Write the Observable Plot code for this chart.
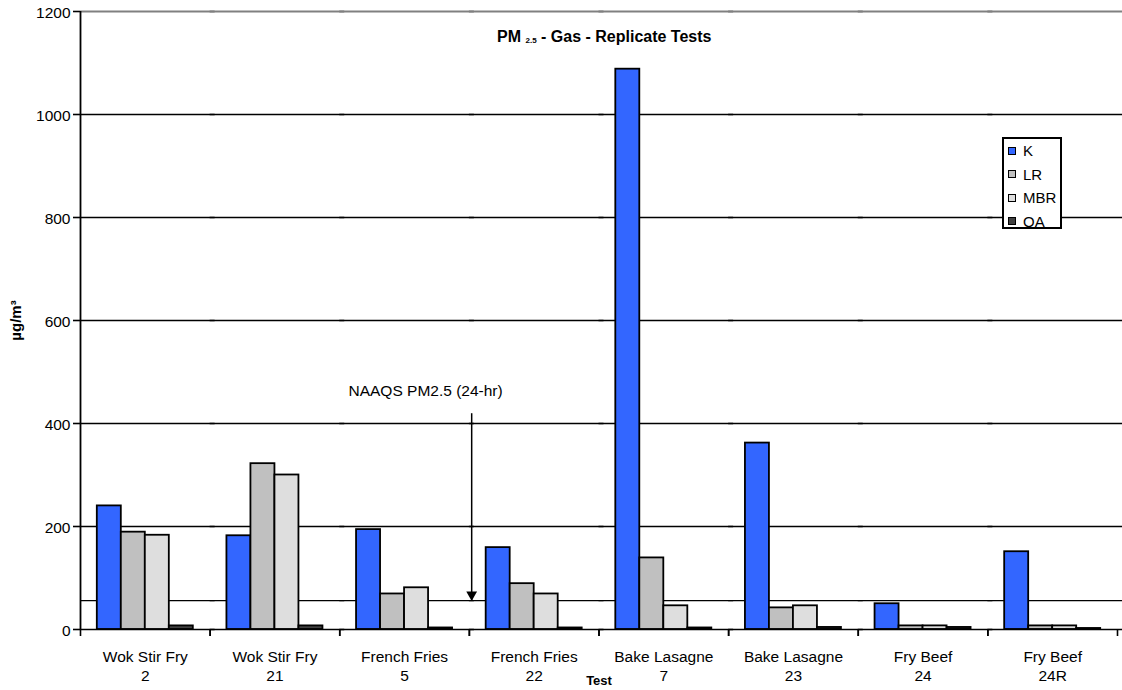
<!DOCTYPE html>
<html>
<head>
<meta charset="utf-8">
<script src="https://cdn.jsdelivr.net/npm/d3@7"></script>
<script src="https://cdn.jsdelivr.net/npm/@observablehq/plot@0.6"></script>
<style>
  body { margin: 0; background: #fff; font-family: "Liberation Sans", Arial, sans-serif; }
  #wrap { position: relative; width: 1122px; height: 690px; overflow: hidden; }
  #title { position: absolute; left: 497px; top: 29px; font-weight: bold; font-size: 16px; line-height: 16px; white-space: pre; color: #000; }
  #title sub { font-size: 8px; vertical-align: -1px; }
  #legend { position: absolute; left: 1002px; top: 137px; width: 56px; height: 88px; border: 2px solid #000; background: #fff; font-size: 15px; }
  #legend .item { height: 23.5px; line-height: 23.5px; display: flex; align-items: center; }
  #legend .sw { width: 6px; height: 6px; border: 1px solid #000; margin-left: 4px; margin-right: 7px; }
  g[aria-label="y-axis label"] text { font-weight: bold; font-size: 15px; }
  g[aria-label="fx-axis label"] text { font-weight: bold; font-size: 13px; }
</style>
</head>
<body>
<div id="wrap">
  <div id="title"></div>
  <div id="legend"></div>
</div>
<script>
// ---- data ----
const tests = ["Wok Stir Fry\n2", "Wok Stir Fry\n21", "French Fries\n5", "French Fries\n22",
               "Bake Lasagne\n7", "Bake Lasagne\n23", "Fry Beef\n24", "Fry Beef\n24R"];
const series = ["K", "LR", "MBR", "OA"];
const colors = ["#3366FF", "#C0C0C0", "#DEDEDE", "#404040"];
const K   = [240, 182, 194, 159, 1088, 362, 50, 151];
const LR  = [189, 322, 69, 89, 139, 42, 7, 7];
const MBR = [183, 300, 81, 69, 46, 46, 7, 7];
const OA  = [7, 7, 3, 3, 3, 4, 4, 2];
const yTicks = [0, 200, 400, 600, 800, 1000, 1200];
const naaqs = 56;
const noteText = "NAAQS PM2.5 (24-hr)";
const noteTextY = 464;
const noteArrowTop = 419;
const titleMain = "PM ", titleSub = "2.5", titleRest = " - Gas - Replicate Tests";
const yLabel = "µg/m³";
const xLabel = "Test";

const valuesBySeries = [K, LR, MBR, OA];
const data = tests.flatMap((t, i) => series.map((s, j) => ({test: t, series: s, value: valuesBySeries[j][i]})));

// ---- layout ----
const W = 1122, H = 690, mL = 80, mR = 5, mT = 11, mB = 61;
const pad = 0.7;
const facetW = (W - mL - mR) / tests.length;
const bw = facetW / (series.length + 2 * pad);
const edge = bw / 2 + pad * bw;

const chart = Plot.plot({
  width: W, height: H,
  marginLeft: mL, marginRight: mR, marginTop: mT, marginBottom: mB,
  style: {fontFamily: "Liberation Sans, Arial, sans-serif", fontSize: "15.5px", color: "#000", background: "transparent"},
  fx: {domain: tests, padding: 0, round: false, label: null, axis: null},
  x: {domain: series, paddingInner: 0, paddingOuter: pad, round: false, axis: null},
  y: {domain: [0, 1200], ticks: yTicks, axis: null},
  color: {domain: series, range: colors},
  marks: [
    Plot.ruleY(yTicks.slice(1, -1), {stroke: "#000", strokeWidth: 1.3, insetRight: -mR}),
    Plot.ruleY([yTicks[yTicks.length - 1]], {stroke: "#808080", strokeWidth: 2, insetRight: -mR}),
    Plot.ruleY([naaqs], {stroke: "#000", strokeWidth: 1.3, insetRight: -mR}),
    Plot.barY(data, {fx: "test", x: "series", y: "value", fill: "series", stroke: "#000", strokeWidth: 1.8}),
    Plot.ruleY([0], {stroke: "#000", strokeWidth: 1.6, insetRight: -mR}),
    // value-axis line at the left edge of the first group
    Plot.ruleX([tests[0]], {fx: d => d, x: () => series[0], y1: () => 0, y2: () => yTicks[yTicks.length - 1], dx: -edge, stroke: "#000", strokeWidth: 1.8}),
    // category boundary ticks
    Plot.ruleX(tests, {fx: d => d, x: () => series[0], y1: () => 0, y2: () => 0, insetBottom: -7, dx: -edge, stroke: "#000", strokeWidth: 1.6}),
    Plot.ruleX(tests, {fx: d => d, x: () => series[series.length - 1], y1: () => 0, y2: () => 0, insetBottom: -7, dx: edge, stroke: "#000", strokeWidth: 1.6}),
    // y-axis tick marks
    Plot.axisY({ticks: yTicks, tickFormat: () => "", tickSize: 7, strokeWidth: 1.6, label: null}),
    // y-axis tick labels + title
    Plot.axisY({ticks: yTicks, tickFormat: d => String(d), tickSize: 0, tickPadding: 10, dy: 2,
                label: yLabel, labelAnchor: "center", labelArrow: "none", labelOffset: 70}),
    Plot.axisFx({anchor: "bottom", tickSize: 0, tickPadding: 19, lineHeight: 1.23,
                 label: xLabel, labelAnchor: "center", labelOffset: 55}),
    // annotation
    Plot.text([tests[2]], {fx: d => d, x: () => "MBR", y: () => noteTextY, text: () => noteText, dx: 9, fill: "#000"}),
    Plot.ruleX([tests[3]], {fx: d => d, x: () => "K", y1: () => naaqs, y2: () => noteArrowTop, dx: -26.5, stroke: "#000", strokeWidth: 1.5}),
    Plot.dot([tests[3]], {fx: d => d, x: () => "K", y: () => naaqs, dx: -26.5, dy: -6, symbol: "triangle", rotate: 180, r: 4, fill: "#000", stroke: "none"})
  ]
});

document.getElementById("wrap").prepend(chart);
chart.style.position = "absolute"; chart.style.left = "0"; chart.style.top = "0";

// title
const t = document.getElementById("title");
t.append(titleMain);
const sub = document.createElement("sub"); sub.textContent = titleSub; t.append(sub);
t.append(titleRest);

// legend
const lg = d3.select("#legend");
series.forEach((s, i) => {
  const it = lg.append("div").attr("class", "item");
  it.append("div").attr("class", "sw").style("background", colors[i]);
  it.append("span").text(s);
});
</script>
</body>
</html>
